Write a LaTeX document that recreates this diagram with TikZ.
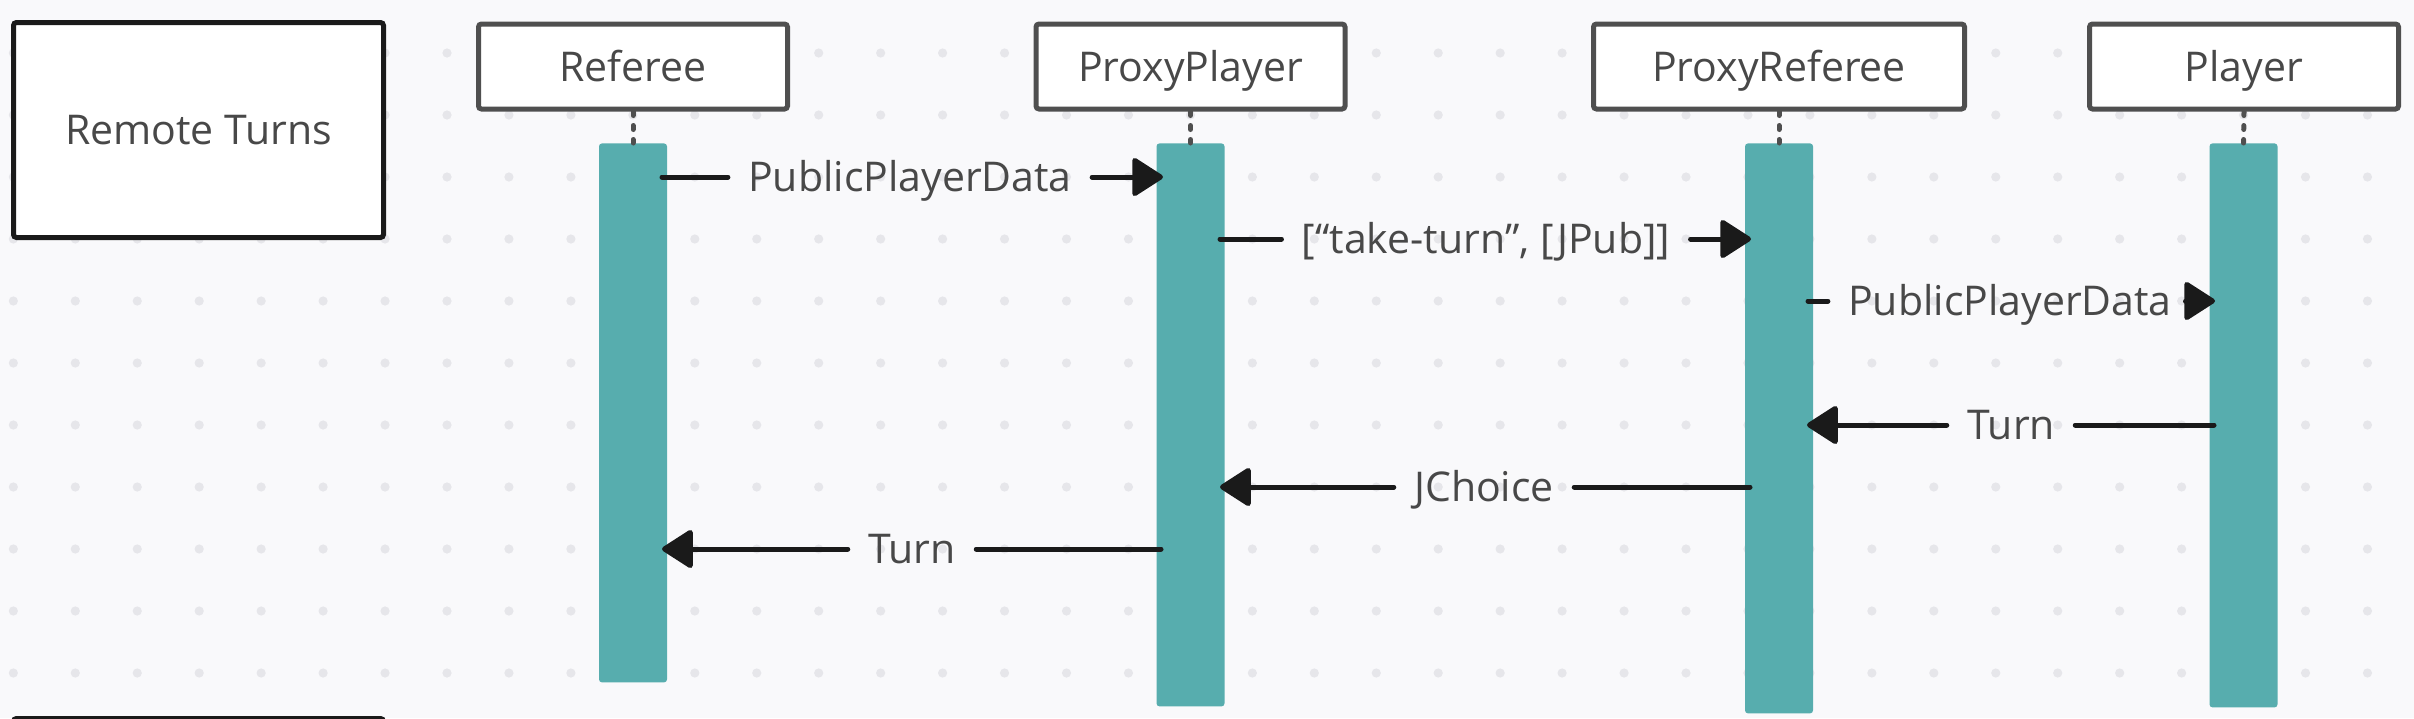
\documentclass[tikz,border=0pt]{standalone}
\usepackage{fontspec}
\setmainfont{Open Sans}
\usetikzlibrary{arrows.meta}
\definecolor{bgc}{RGB}{249,249,251}
\definecolor{dotc}{RGB}{230,230,234}
\definecolor{barc}{RGB}{87,173,174}
\definecolor{boxc}{RGB}{79,79,79}
\definecolor{txtc}{RGB}{72,72,72}
\definecolor{ink}{RGB}{26,26,26}
\newcommand\lblfont{\fontsize{20.5}{24}\selectfont}
\begin{document}
\begin{tikzpicture}[x=0.5pt,y=-0.5pt,
  actor/.style={draw=boxc, line width=2.5pt, fill=white, rounded corners=1.5pt,
    minimum width=154.5pt, minimum height=42.5pt, inner sep=0pt, font=\lblfont,
    text=txtc, text height=14.6pt, text depth=0pt},
  titlebox/.style={draw=ink, line width=2.5pt, fill=white, rounded corners=1.5pt,
    minimum width=185pt, minimum height=107.5pt, inner sep=0pt, font=\lblfont,
    text=txtc, text height=14.6pt, text depth=0pt},
  bar/.style={fill=barc, rounded corners=1.5pt, minimum width=34pt, inner sep=0pt, anchor=north},
  life/.style={draw=boxc, line width=2.5pt, line cap=round, dash pattern=on 2pt off 5pt},
  msg/.style={draw=ink, line width=2.5pt, line cap=round},
  tipped/.style={-{Triangle[length=16.5pt,width=20.5pt,round]}},
  lbl/.style={font=\lblfont, text=txtc, inner xsep=10pt, inner ysep=0pt,
    text height=14.6pt, text depth=0pt}]
\useasboundingbox (0,0) rectangle (2414,718);
\clip (0,0) rectangle (2414,718);
\fill[bgc] (0,0) rectangle (2414,718);
% dot grid
\foreach \i in {0,...,38}
  \foreach \j in {0,...,10}
    \fill[dotc] (13.35+61.95*\i, 53+62*\j) circle (2.3pt);
% frames
\node[titlebox] (title) at (198.5,130) {Remote Turns};
\draw[draw=ink, line width=2.5pt, rounded corners=1.5pt] (13.5,718.5) rectangle (383.5,900);
% participants
\node[actor] (aRef) at (633,66.5) {Referee};
\node[actor] (aPP) at (1190.5,66.5) {ProxyPlayer};
\node[actor, minimum width=185.5pt] (aPR) at (1779,66.5) {ProxyReferee};
\node[actor] (aPl) at (2244,66.5) {Player};
% activation bars
\node[bar, minimum height=269.5pt] (bRef) at (633,143) {};
\node[bar, minimum height=281.5pt] (bPP) at (1190.5,143) {};
\node[bar, minimum height=285pt] (bPR) at (1779,143) {};
\node[bar, minimum height=282pt] (bPl) at (2243.5,143) {};
% lifelines
\draw[life] (aRef.south) -- (bRef.north);
\draw[life] (aPP.south) -- (bPP.north);
\draw[life] (aPR.south) -- (bPR.north);
\draw[life] (aPl.south) -- (bPl.north);
% message end points
\coordinate (m1s) at (662,177);  \coordinate (m1e) at (1163,177);
\coordinate (m2s) at (1220,239); \coordinate (m2e) at (1751,239);
\coordinate (m3s) at (1808,301); \coordinate (m3e) at (2215,301);
\coordinate (m4s) at (2214,425); \coordinate (m4e) at (1807,425);
\coordinate (m5s) at (1750,487); \coordinate (m5e) at (1220,487);
\coordinate (m6s) at (1161,549); \coordinate (m6e) at (662,549);
% labels
\node[lbl] (l1) at (910,177) {PublicPlayerData};
\node[lbl] (l2) at (1486,239) {[“take-turn”, [JPub]]};
\node[lbl] (l3) at (2010,301) {PublicPlayerData};
\node[lbl] (l4) at (2011,425) {Turn};
\node[lbl] (l5) at (1484,487) {JChoice};
\node[lbl] (l6) at (912,549) {Turn};
% messages
\draw[msg] (m1s) -- (l1.west);  \draw[msg,tipped] (l1.east) -- (m1e);
\draw[msg] (m2s) -- (l2.west);  \draw[msg,tipped] (l2.east) -- (m2e);
\draw[msg] (m3s) -- (l3.west);  \draw[msg,tipped] (l3.east) -- (m3e);
\draw[msg] (m4s) -- (l4.east);  \draw[msg,tipped] (l4.west) -- (m4e);
\draw[msg] (m5s) -- (l5.east);  \draw[msg,tipped] (l5.west) -- (m5e);
\draw[msg] (m6s) -- (l6.east);  \draw[msg,tipped] (l6.west) -- (m6e);
\end{tikzpicture}
\end{document}
